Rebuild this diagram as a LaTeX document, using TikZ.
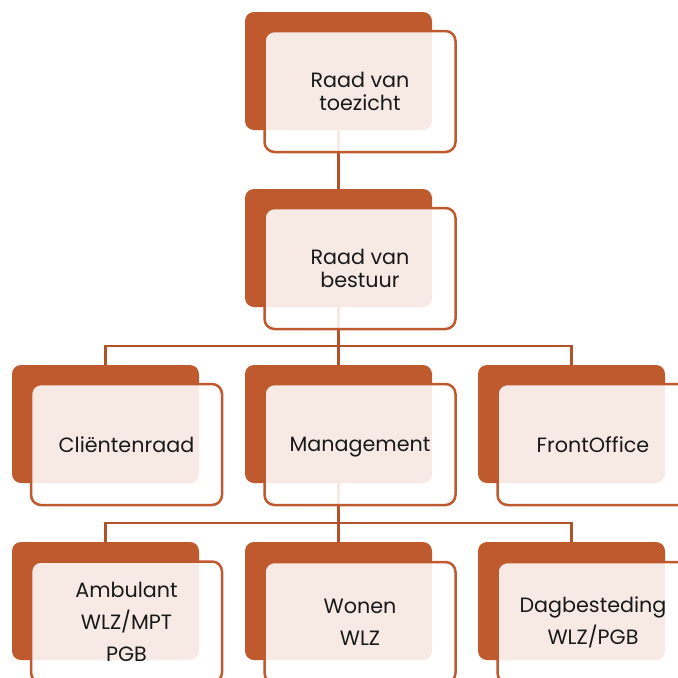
\documentclass[tikz,border=0pt]{standalone}
\usepackage{fontspec}
\setmainfont{Poppins}
\usetikzlibrary{backgrounds}
\definecolor{orng}{RGB}{191,90,47}
\tikzset{
  back/.style={fill=orng, rounded corners=9pt, minimum width=187pt, minimum height=118pt, inner sep=0pt},
  front/.style={draw=orng, line width=2.5pt, fill=white, fill opacity=0.88, text opacity=1, rounded corners=10pt, minimum width=191pt, minimum height=121pt, inner sep=0pt, align=center, text=black!90},
  conn/.style={draw=orng!92!black, line width=2.6pt},
  txtA/.style={font=\fontsize{20.7}{23}\selectfont},
  txtB/.style={font=\fontsize{20.7}{32}\selectfont}
}
\begin{document}
\begin{tikzpicture}[x=1pt,y=-1pt]
\useasboundingbox (0,0) rectangle (678,678);
\clip (0,0) rectangle (678,678);
\node[back] (t) at (338.5,71) {};
\node[front,txtA] (tf) at (360,91.5) {Raad van\\toezicht};
\node[back] (b) at (338.5,248) {};
\node[front,txtA] (bf) at (360,268.5) {Raad van\\bestuur};
\node[back] (c) at (105.5,424) {};
\node[front,txtA] (cf) at (126.5,444.5) {Cliëntenraad};
\node[back] (m) at (338.5,424) {};
\node[front,txtA] (mf) at (360,444.5) {\raisebox{0pt}[\height][0pt]{Management}};
\node[back] (f) at (571.5,424) {};
\node[front,txtA] (ff) at (593,444.5) {FrontOffice};
\node[back] (a) at (105.5,601) {};
\node[front,txtB] (af) at (126.5,622) {Ambulant\\WLZ/MPT\\PGB};
\node[back] (w) at (338.5,601) {};
\node[front,txtB] (wf) at (360,622.5) {Wonen\\WLZ};
\node[back] (d) at (571.5,601) {};
\node[front,txtB] (df) at (593,622.5) {Dagbesteding\\WLZ/PGB};
\coordinate (j1) at (338.5,346);
\coordinate (j2) at (338.5,523);
\begin{scope}[on background layer]
\draw[conn] (t.south) -- (b.north);
\draw[conn] (b.south) -- (j1);
\draw[conn] (c.north) |- (j1) -| (f.north);
\draw[conn] (j1) -- (m.north);
\draw[conn] (m.south) -- (j2);
\draw[conn] (a.north) |- (j2) -| (d.north);
\draw[conn] (j2) -- (w.north);
\end{scope}
\end{tikzpicture}
\end{document}
